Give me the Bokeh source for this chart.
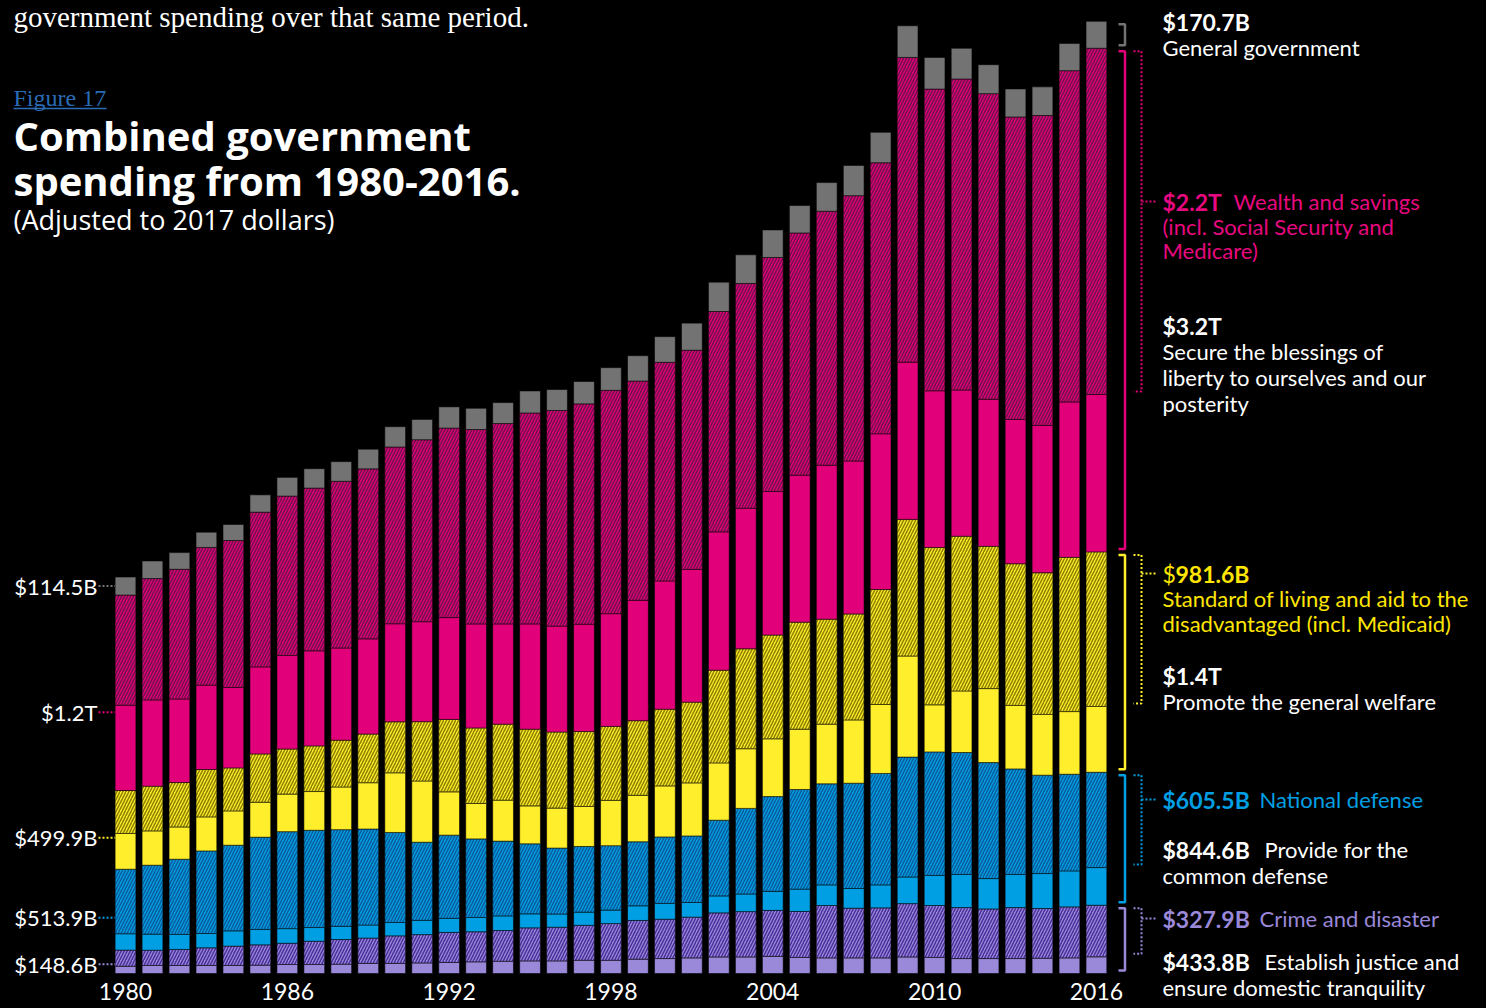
import numpy as np
from bokeh.plotting import figure
from bokeh.models import LinearAxis, FixedTicker, Range1d
from bokeh.core.properties import value
from bokeh.embed import file_html
from bokeh.resources import INLINE

# ---------------- data (billions of 2017 dollars) ----------------
years = list(range(1980, 2017))
tick_years = [1980, 1986, 1992, 1998, 2004, 2010, 2016]

# Establish justice: solid part and "Crime and disaster" (hatched)
justice_other = [46, 51, 51, 51, 51, 53, 57, 57, 59, 64, 64, 67, 70, 74, 78, 80, 80, 84, 84, 91,
                 95, 99, 105, 105, 109, 102, 99, 99, 99, 105, 102, 95, 95, 95, 97, 99, 105.9]
crime_disaster = [102.6, 97, 102, 112, 123, 129, 135, 148, 157, 161, 175, 180, 191, 191, 195, 210, 214, 222, 233, 246,
                  250, 259, 280, 288, 292, 292, 333, 316, 318, 339, 330, 324, 315, 324, 316, 324, 327.9]
# Provide for the common defense: solid part and "National defense" (hatched)
defense_other = [104, 102, 95, 91, 97, 98, 93, 87, 84, 83, 85, 91, 89, 91, 93, 89, 84, 84, 86, 93,
                 100, 93, 108, 112, 121, 142, 131, 125, 146, 169, 191, 210, 193, 210, 222, 229, 239.1]
national_defense = [409.9, 438, 478, 525, 544, 586, 616, 618, 614, 610, 572, 496, 529, 499, 475, 445, 419, 417, 409, 407,
                    423, 423, 481, 544, 602, 633, 642, 669, 708, 762, 785, 775, 737, 671, 625, 614, 605.5]
# Promote the general welfare: solid part and "Standard of living" (hatched)
welfare_other = [227, 218, 205, 216, 218, 222, 239, 246, 271, 294, 379, 389, 275, 225, 260, 241, 254, 254, 288, 295,
                 324, 337, 364, 379, 367, 383, 379, 402, 438, 642, 299, 391, 470, 403, 386, 398, 418.4]
standard_of_living = [272.9, 284, 282, 301, 273, 307, 286, 290, 297, 309, 324, 377, 460, 480, 483, 487, 483, 476, 470, 474,
                      487, 513, 589, 635, 659, 680, 667, 673, 731, 868, 1000, 983, 904, 900, 900, 980, 981.6]
# Secure the blessings of liberty: solid part and "Wealth and savings" (hatched)
blessings_other = [542, 548, 531, 536, 511, 553, 595, 604, 586, 605, 623, 635, 647, 661, 637, 669, 673, 682, 716, 765,
                   815, 843, 879, 893, 912, 934, 978, 972, 989, 999, 995, 929, 934, 917, 936, 987, 1000]
wealth_savings = [700, 771, 824, 875, 934, 983, 1012, 1034, 1059, 1080, 1123, 1156, 1204, 1235, 1273, 1340, 1370, 1400, 1419, 1393,
                  1389, 1393, 1400, 1428, 1487, 1539, 1614, 1686, 1722, 1936, 1917, 1976, 1942, 1922, 1969, 2105, 2200]
# General government
general_government = [114.5, 112, 106, 97, 102, 110, 119, 123, 125, 125, 129, 129, 135, 135, 133, 140, 133, 142, 144, 161,
                      163, 172, 186, 182, 175, 174, 182, 192, 193, 201, 201, 195, 184, 178, 182, 173, 170.7]

left_labels = ["$148.6B", "$513.9B", "$499.9B", "$1.2T", "$114.5B"]   # 1980 totals, bottom to top

# ---------------- styling ----------------
PURPLE, PURPLE_D = "#9a88d8", "#4a309c"
BLUE, BLUE_D = "#009fe3", "#0a5c9c"
YELLOW, YELLOW_D = "#ffee2b", "#8c8000"
PINK, PINK_D = "#e2007a", "#72104a"
GRAY = "#737373"
YELLOW_T = "#ffe600"
PINK_T = "#e8087f"
SANS = "Lato"
WIDE = "Open Sans"
SERIF = "Liberation Serif"

W, H = 1484, 1006
BASE_Y = 973.0      # pixel row of the bars' baseline
PX_PER_B = 0.1574   # pixels per billion


def px(page_x):
    return 1980 + (page_x - 125.0) / 26.97


def py(page_y):
    return (BASE_Y - page_y) / PX_PER_B


p = figure(width=W, height=H, output_backend="svg", toolbar_location=None,
           x_range=Range1d(px(0), px(W)), y_range=Range1d(py(H), py(0)),
           x_axis_type=None, y_axis_type=None, min_border=0,
           background_fill_color="black", border_fill_color="black", outline_line_color=None)
p.grid.visible = False

xaxis = LinearAxis(ticker=FixedTicker(ticks=tick_years), fixed_location=0)
xaxis.axis_line_color = None
xaxis.major_tick_line_color = None
xaxis.minor_tick_line_color = None
xaxis.major_label_standoff = 3
xaxis.major_label_text_color = "white"
xaxis.major_label_text_font = SANS
xaxis.major_label_text_font_size = "23px"
p.add_layout(xaxis, "below")

layers = [
    (justice_other, PURPLE, None),
    (crime_disaster, PURPLE, PURPLE_D),
    (defense_other, BLUE, None),
    (national_defense, BLUE, BLUE_D),
    (welfare_other, YELLOW, None),
    (standard_of_living, YELLOW, YELLOW_D),
    (blessings_other, PINK, None),
    (wealth_savings, PINK, PINK_D),
    (general_government, GRAY, None),
]

bottom = np.zeros(len(years))
bounds = [bottom.copy()]
for vals, color, hatch in layers:
    top = bottom + np.array(vals, dtype=float)
    kw = dict(x=years, bottom=bottom, top=top, width=0.77, fill_color=color,
              line_color="black", line_alpha=0.55, line_width=1)
    if hatch:
        kw.update(hatch_pattern="/", hatch_color=hatch, hatch_scale=6.0, hatch_weight=1.5)
    p.vbar(**kw)
    bottom = top
    bounds.append(top.copy())


def add_text(x, y, texts, color="white", size=22, bold=False, font=SANS, align="left"):
    p.text(x=x, y=y, text=texts, text_color=color, text_font=value(font),
           text_font_size=f"{size}px", text_font_style="bold" if bold else "normal",
           text_align=align, text_baseline="middle")


# ---------------- header texts ----------------
add_text([px(13)], [py(16)], ["government spending over that same period."], size=29, font=SERIF)
add_text([px(13)], [py(97)], ["Figure 17"], color="#2a6cb6", size=24, font=SERIF)
p.segment(x0=[px(13)], y0=[py(108)], x1=[px(106)], y1=[py(108)], line_color="#2a6cb6", line_width=1.5)
add_text([px(13), px(13)], [py(135), py(180)], ["Combined government", "spending from 1980-2016."],
         size=40, bold=True, font=WIDE)
add_text([px(13)], [py(219)], ["(Adjusted to 2017 dollars)"], size=27, font=WIDE)

# ---------------- left labels (1980 values) ----------------
cat_bounds_1980 = [(bounds[0][0], bounds[2][0]), (bounds[2][0], bounds[4][0]), (bounds[4][0], bounds[6][0]),
                   (bounds[6][0], bounds[8][0]), (bounds[8][0], bounds[9][0])]
cat_colors = [PURPLE, BLUE, YELLOW, PINK, GRAY]
fracs = [0.4, 0.4, 0.4, 0.4, 0.5]
ly = [lo + f * (hi - lo) for (lo, hi), f in zip(cat_bounds_1980, fracs)]
add_text([px(97)] * 5, ly, left_labels, size=22, align="right")
p.segment(x0=[px(98)] * 5, y0=ly, x1=[years[0] - 0.385] * 5, y1=ly, line_color=cat_colors,
          line_width=2, line_dash="2 2")

# ---------------- right brackets (2016 values) ----------------
b = [arr[-1] for arr in bounds]
ins = 3 / PX_PER_B
solid = [(b[0], b[2], PURPLE), (b[2], b[4], BLUE), (b[4], b[6], YELLOW), (b[6], b[8], PINK), (b[8], b[9], GRAY)]
for lo, hi, c in solid:
    p.line(x=[px(1118), px(1124.5), px(1124.5), px(1118)], y=[hi - ins, hi - ins, lo + ins, lo + ins],
           line_color=c, line_width=2.5)
dotted = [(b[1], b[2], PURPLE, 918), (b[3], b[4], BLUE, 799), (b[5], b[6], YELLOW, 573), (b[7], b[8], PINK, 201)]
for lo, hi, c, ty in dotted:
    p.line(x=[px(1133), px(1141), px(1141), px(1133)], y=[hi - ins, hi - ins, lo + ins, lo + ins],
           line_color=c, line_width=2, line_dash="2 2")
    p.line(x=[px(1141), px(1157)], y=[py(ty), py(ty)], line_color=c, line_width=2, line_dash="2 2")

# ---------------- right labels ----------------
X0 = px(1162)
BV = 23  # size of the bold values
add_text([X0], [py(21)], ["$170.7B"], bold=True, size=BV)
add_text([X0], [py(47)], ["General government"])
add_text([X0], [py(201)], ["$2.2T"], color=PINK_T, bold=True, size=BV)
add_text([px(1233)], [py(201)], ["Wealth and savings"], color=PINK_T)
add_text([X0, X0], [py(226), py(250)], ["(incl. Social Security and", "Medicare)"], color=PINK_T)
add_text([X0], [py(325)], ["$3.2T"], bold=True, size=BV)
add_text([X0] * 3, [py(351), py(377), py(403)],
         ["Secure the blessings of", "liberty to ourselves and our", "posterity"])
add_text([X0], [py(573)], ["$"], color=YELLOW_T, size=BV)
add_text([px(1175)], [py(573)], ["981.6B"], color=YELLOW_T, bold=True, size=BV)
add_text([X0, X0], [py(598), py(623)], ["Standard of living and aid to the", "disadvantaged (incl. Medicaid)"],
         color=YELLOW_T)
add_text([X0], [py(675)], ["$1.4T"], bold=True, size=BV)
add_text([X0], [py(701)], ["Promote the general welfare"])
add_text([X0], [py(799)], ["$605.5B"], color=BLUE, bold=True, size=BV)
add_text([px(1259)], [py(799)], ["National defense"], color=BLUE)
add_text([X0], [py(849)], ["$844.6B"], bold=True, size=BV)
add_text([px(1264)], [py(849)], ["Provide for the"])
add_text([X0], [py(875)], ["common defense"])
add_text([X0], [py(918)], ["$327.9B"], color=PURPLE, bold=True, size=BV)
add_text([px(1259)], [py(918)], ["Crime and disaster"], color=PURPLE)
add_text([X0], [py(961)], ["$433.8B"], bold=True, size=BV)
add_text([px(1264)], [py(961)], ["Establish justice and"])
add_text([X0], [py(987)], ["ensure domestic tranquility"])

html = file_html(p, INLINE, title="Combined government spending 1980-2016")
html = html.replace("</head>", "<style>html,body{background:#000;}</style></head>", 1)
open("out.html", "w").write(html)
